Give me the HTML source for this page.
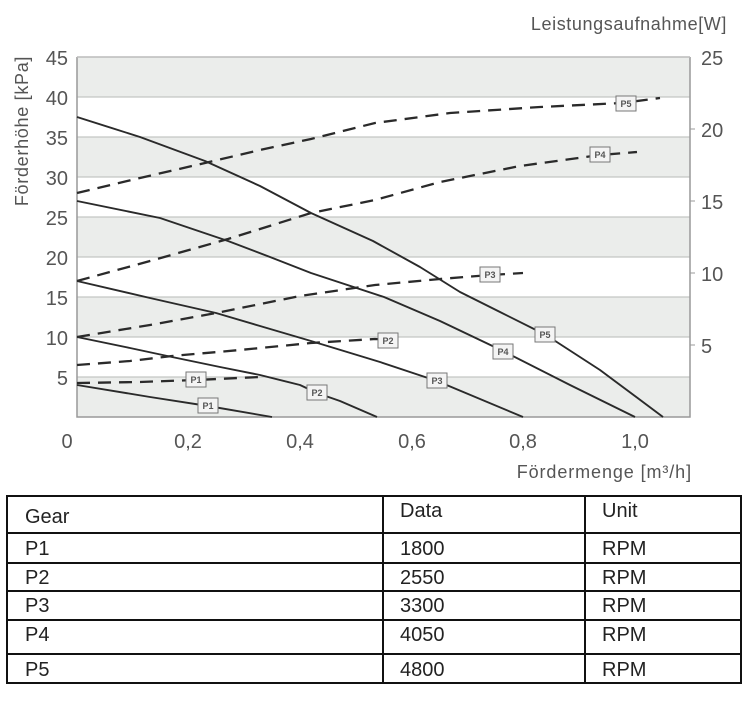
<!DOCTYPE html>
<html><head><meta charset="utf-8"><style>
body{margin:0;background:#fff;width:750px;height:703px;overflow:hidden}
svg{display:block;font-family:"Liberation Sans","DejaVu Sans",sans-serif}
</style></head><body>
<svg width="750" height="703" viewBox="0 0 750 703">
<rect width="750" height="703" fill="#fff"/>
<g fill="#ebedeb">
<rect x="77" y="57" width="613" height="40"/>
<rect x="77" y="137" width="613" height="40"/>
<rect x="77" y="217" width="613" height="40"/>
<rect x="77" y="297" width="613" height="40"/>
<rect x="77" y="377" width="613" height="40"/>
</g>
<g stroke="#c4c6c4" stroke-width="1.2">
<line x1="77" y1="97" x2="690" y2="97"/><line x1="77" y1="137" x2="690" y2="137"/>
<line x1="77" y1="177" x2="690" y2="177"/><line x1="77" y1="217" x2="690" y2="217"/>
<line x1="77" y1="257" x2="690" y2="257"/><line x1="77" y1="297" x2="690" y2="297"/>
<line x1="77" y1="337" x2="690" y2="337"/><line x1="77" y1="377" x2="690" y2="377"/>
</g>
<g stroke="#999" stroke-width="1.5" fill="none">
<polyline points="77,57 77,417 690,417 690,57"/>
<line x1="77" y1="57" x2="690" y2="57" stroke="#bbb"/>
</g>
<g stroke="#2a2a2a" stroke-width="1.9" fill="none" stroke-linejoin="round">
<polyline points="77,117 140,137 205,161 260,186 311,213 373,241 420,267 460,292 500,312 546,335 600,370 663,417"/>
<polyline points="77,201 160,218 228,241 270,257 311,273 384,297 440,321 503,351 570,385 635,417"/>
<polyline points="77,281 150,298 216,313 260,326 311,341 380,362 437,381 523,417"/>
<polyline points="77,337 130,348 172,357 220,367 260,375 300,385 317,393 340,401 377,417"/>
<polyline points="77,385 150,397 208,406 272,417"/>
</g>
<g stroke="#2a2a2a" stroke-width="2.3" fill="none" stroke-dasharray="13,8">
<polyline points="77,193 140,178 205,163 260,150 311,139 375,123 450,113 540,107 622,103 660,98"/>
<polyline points="77,281 150,261 228,239 311,213 375,200 440,182 520,166 600,155 637,152"/>
<polyline points="77,337 150,325 216,313 300,296 375,285 440,279 490,275 523,273"/>
<polyline points="77,365 130,361 172,356 240,350 311,343 375,339 395,340"/>
<polyline points="77,383 140,382 196,380 260,377"/>
</g>
<g font-size="9" fill="#555" text-anchor="middle" font-weight="bold">
<g stroke="#777" stroke-width="1" fill="#f4f4f4">
<rect x="616" y="96" width="20" height="15"/>
<rect x="590" y="147" width="20" height="15"/>
<rect x="480" y="267" width="20" height="15"/>
<rect x="378" y="333" width="20" height="15"/>
<rect x="186" y="372" width="20" height="15"/>
<rect x="535" y="327" width="20" height="15"/>
<rect x="493" y="344" width="20" height="15"/>
<rect x="427" y="373" width="20" height="15"/>
<rect x="307" y="385" width="20" height="15"/>
<rect x="198" y="398" width="20" height="15"/>
</g>
<text x="626" y="107">P5</text><text x="600" y="158">P4</text><text x="490" y="278">P3</text>
<text x="388" y="344">P2</text><text x="196" y="383">P1</text><text x="545" y="338">P5</text>
<text x="503" y="355">P4</text><text x="437" y="384">P3</text><text x="317" y="396">P2</text><text x="208" y="409">P1</text>
</g>
<g font-size="20" fill="#555" text-anchor="end">
<text x="68" y="65">45</text><text x="68" y="105">40</text><text x="68" y="145">35</text>
<text x="68" y="185">30</text><text x="68" y="225">25</text><text x="68" y="265">20</text>
<text x="68" y="305">15</text><text x="68" y="345">10</text><text x="68" y="385">5</text>
</g>
<g font-size="20" fill="#555">
<text x="701" y="65">25</text><text x="701" y="137">20</text><text x="701" y="209">15</text>
<text x="701" y="281">10</text><text x="701" y="353">5</text>
</g>
<g stroke="#999" stroke-width="1"><line x1="690" y1="129" x2="695" y2="129"/><line x1="690" y1="201" x2="695" y2="201"/><line x1="690" y1="273" x2="695" y2="273"/><line x1="690" y1="345" x2="695" y2="345"/></g>
<g font-size="20" fill="#555" text-anchor="middle">
<text x="67" y="448">0</text><text x="188" y="448">0,2</text><text x="300" y="448">0,4</text>
<text x="412" y="448">0,6</text><text x="523" y="448">0,8</text><text x="635" y="448">1,0</text>
</g>
<text x="727" y="30" font-size="18" letter-spacing="0.6" fill="#555" text-anchor="end">Leistungsaufnahme[W]</text>
<text x="692" y="478" font-size="18" letter-spacing="0.9" fill="#555" text-anchor="end">Fördermenge [m³/h]</text>
<text transform="translate(28,131) rotate(-90)" font-size="18" letter-spacing="0.7" fill="#555" text-anchor="middle">Förderhöhe [kPa]</text>
<g stroke="#111" stroke-width="2" fill="none">
<rect x="7" y="496" width="734" height="187"/>
<line x1="7" y1="533" x2="741" y2="533"/><line x1="7" y1="563" x2="741" y2="563"/>
<line x1="7" y1="591" x2="741" y2="591"/><line x1="7" y1="620" x2="741" y2="620"/>
<line x1="7" y1="654" x2="741" y2="654"/>
<line x1="383" y1="496" x2="383" y2="683"/><line x1="585" y1="496" x2="585" y2="683"/>
</g>
<g font-size="20" fill="#222">
<text x="25" y="523">Gear</text><text x="400" y="517">Data</text><text x="602" y="517">Unit</text>
<text x="25" y="555">P1</text><text x="400" y="555">1800</text><text x="602" y="555">RPM</text>
<text x="25" y="584">P2</text><text x="400" y="584">2550</text><text x="602" y="584">RPM</text>
<text x="25" y="612">P3</text><text x="400" y="612">3300</text><text x="602" y="612">RPM</text>
<text x="25" y="641">P4</text><text x="400" y="641">4050</text><text x="602" y="641">RPM</text>
<text x="25" y="676">P5</text><text x="400" y="676">4800</text><text x="602" y="676">RPM</text>
</g>
</svg>
</body></html>
